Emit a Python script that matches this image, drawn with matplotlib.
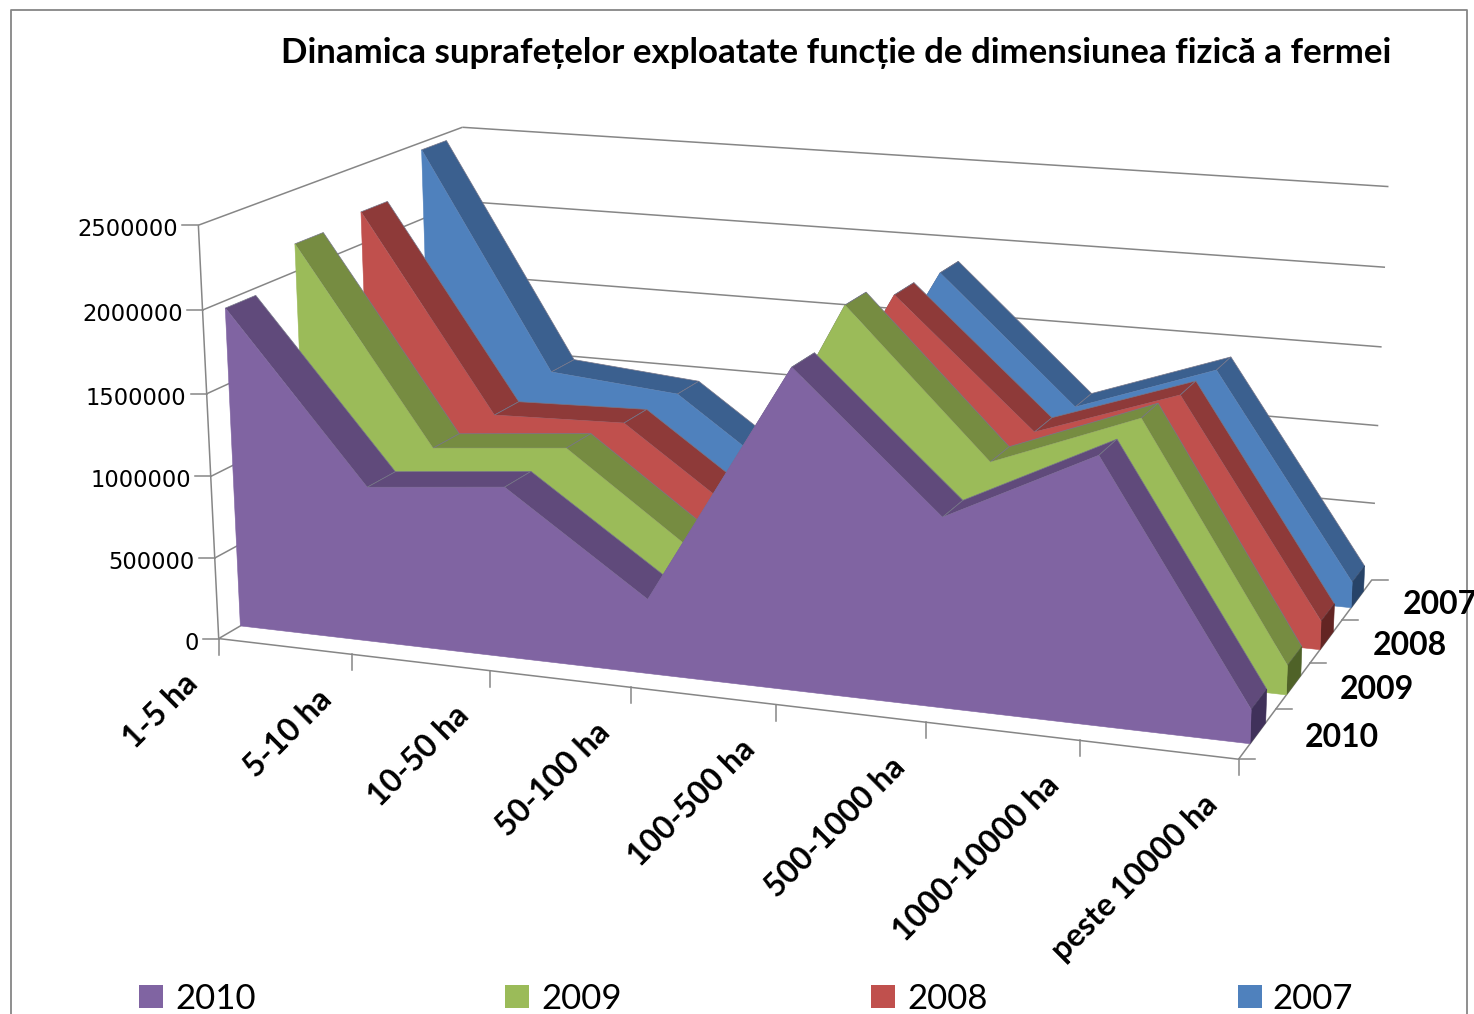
import numpy as np
import matplotlib
matplotlib.use('Agg')
import matplotlib.pyplot as plt
from matplotlib.patches import Rectangle

categories = ['1-5 ha', '5-10 ha', '10-50 ha', '50-100 ha', '100-500 ha',
              '500-1000 ha', '1000-10000 ha', 'peste 10000 ha']
years = ['2010', '2009', '2008', '2007']
s2010 = [1956000, 949000, 1033000, 448000, 1891000, 1111000, 1546000, 196000]
s2009 = [2170000, 967000, 1047000, 435000, 2059000, 1204000, 1542000, 175000]
s2008 = [2205000, 963000, 989000, 390000, 1937000, 1167000, 1470000, 175000]
s2007 = [2452000, 1042000, 969000, 370000, 1895000, 1112000, 1420000, 162000]
series = [s2010, s2009, s2008, s2007]
yticks = [0, 500000, 1000000, 1500000, 2000000, 2500000]
zmax = 2500000

front_col = ['#8064A2', '#9BBB59', '#C0504D', '#4F81BD']
top_col = ['#604A7B', '#768C41', '#8E3A39', '#3B608F']
side_col = ['#40315A', '#4F6228', '#632523', '#274368']
grid_col = '#868686'

# camera: (x, depth, z) to pixels, fitted on the corners and ticks of the box
calib = [(0, 0, 0, 219, 638), (1/7, 0, 0, 352, 655), (2/7, 0, 0, 490, 672), (3/7, 0, 0, 631, 689),
         (4/7, 0, 0, 775, 705), (5/7, 0, 0, 926, 722), (6/7, 0, 0, 1079, 740), (1, 0, 0, 1238, 759),
         (1, .25, 0, 1277, 708), (1, .5, 0, 1311, 663), (1, .75, 0, 1343, 619), (1, 1, 0, 1371, 579),
         (0, 0, .2, 215, 558), (0, 0, .4, 211, 476), (0, 0, .6, 207, 393), (0, 0, .8, 203, 309),
         (0, 0, 1, 198, 226), (1, 1, .2, 1375, 504), (1, 1, .4, 1378, 426), (1, 1, .6, 1381, 348),
         (1, 1, .8, 1385, 268), (1, 1, 1, 1389, 186), (0, 1, 1, 462, 127)]
A = []
b = []
for x, y, z, u, v in calib:
    A.append([x, y, z, 1, 0, 0, 0, 0, -u*x, -u*y, -u*z])
    b.append(u)
    A.append([0, 0, 0, 0, x, y, z, 1, -v*x, -v*y, -v*z])
    b.append(v)
P = np.append(np.linalg.lstsq(np.array(A, float), np.array(b, float), rcond=None)[0], 1).reshape(3, 4)


def proj(x, y, value):
    h = P @ np.array([x, y, value / zmax, 1.0])
    return h[0] / h[2], h[1] / h[2]


def line3(p0, p1):
    (u0, v0), (u1, v1) = proj(*p0), proj(*p1)
    ax.plot([u0, u1], [v0, v1], color=grid_col, lw=1.1, solid_capstyle='butt', zorder=0.5)


fig = plt.figure(figsize=(14.74, 10.14), dpi=100)
ax = fig.add_axes([0, 0, 1, 1])
ax.axis('off')
ax.set_xlim(0, 1474)
ax.set_ylim(1014, 0)

# outer frame, cut off at the bottom of the picture
ax.plot([11, 11, 1467, 1467], [1014, 10, 10, 1014], color=grid_col, lw=1.3)

# walls and floor edges
for t in yticks[1:]:
    line3((0, 0, t), (0, 1, t))
    line3((0, 1, t), (1, 1, t))
line3((0, 0, 0), (0, 0, zmax))
line3((0, 0, 0), (1, 0, 0))
line3((0, 0, 0), (0, 1, 0))
line3((1, 0, 0), (1, 1, 0))

# ticks and their labels
for t in yticks:
    u, v = proj(0, 0, t)
    ax.plot([u - 16, u], [v, v], color=grid_col, lw=1.1, zorder=0.5)
    ax.text(u - 20, v + 4.5, str(t), ha='right', va='center', fontsize=16.3, family='DejaVu Sans')
for k, name in enumerate(categories):
    u, v = proj(k / 7, 0, 0)
    ax.plot([u, u], [v, v + 16], color=grid_col, lw=1.1, zorder=0.5)
    ax.text(u - 36, v + 30, name, rotation=45, rotation_mode='anchor', ha='right', va='top',
            fontsize=23, fontweight='bold', family='Lato')
for j in range(5):
    u, v = proj(1, j / 4, 0)
    ax.plot([u, u + 16], [v, v], color=grid_col, lw=1.1, zorder=0.5)
# the last depth label runs into the frame and is cut there, as in the original
frame_clip = Rectangle((0, 0), 1468, 1014, transform=ax.transData)
for j, name in enumerate(years):
    u, v = proj(1, (j + .5) / 4, 0)
    ax.text(u + 47 - j * 0.3, v + 3.5 + j * 0.5, name, ha='left', va='center',
            fontsize=23, fontweight='bold', family='Lato', clip_path=frame_clip, clip_on=True)

# areas from back to front: tops and end cap first, the front face hides what is not seen
for j in range(3, -1, -1):
    vals = series[j]
    yf = (j + .3) / 4
    yb = (j + .72) / 4
    xs = [k / 7 for k in range(8)]
    for k in range(7):
        quad = [proj(xs[k], yf, vals[k]), proj(xs[k + 1], yf, vals[k + 1]),
                proj(xs[k + 1], yb, vals[k + 1]), proj(xs[k], yb, vals[k])]
        ax.fill(*zip(*quad), facecolor=top_col[j], edgecolor='#77778a', lw=0.5)
    cap = [proj(1, yf, 0), proj(1, yb, 0), proj(1, yb, vals[-1]), proj(1, yf, vals[-1])]
    ax.fill(*zip(*cap), facecolor=side_col[j], edgecolor=side_col[j], lw=0.4)
    face = [proj(0, yf, 0)] + [proj(x, yf, w) for x, w in zip(xs, vals)] + [proj(1, yf, 0)]
    ax.fill(*zip(*face), facecolor=front_col[j], edgecolor=front_col[j], lw=0.4)

ax.text(281, 53, 'Dinamica suprafețelor exploatate funcție de dimensiunea fizică a fermei',
        ha='left', va='center', fontsize=25.1, fontweight='bold', family='Lato')

# legend along the bottom edge
for name, col, sx, tx in zip(years, front_col, [139, 505, 871, 1238], [175, 541, 907, 1272]):
    ax.add_patch(Rectangle((sx, 985), 24, 23, facecolor=col, edgecolor='none'))
    ax.text(tx, 999, name, ha='left', va='center', fontsize=25, family='Lato')

fig.savefig('out.png', dpi=100)
